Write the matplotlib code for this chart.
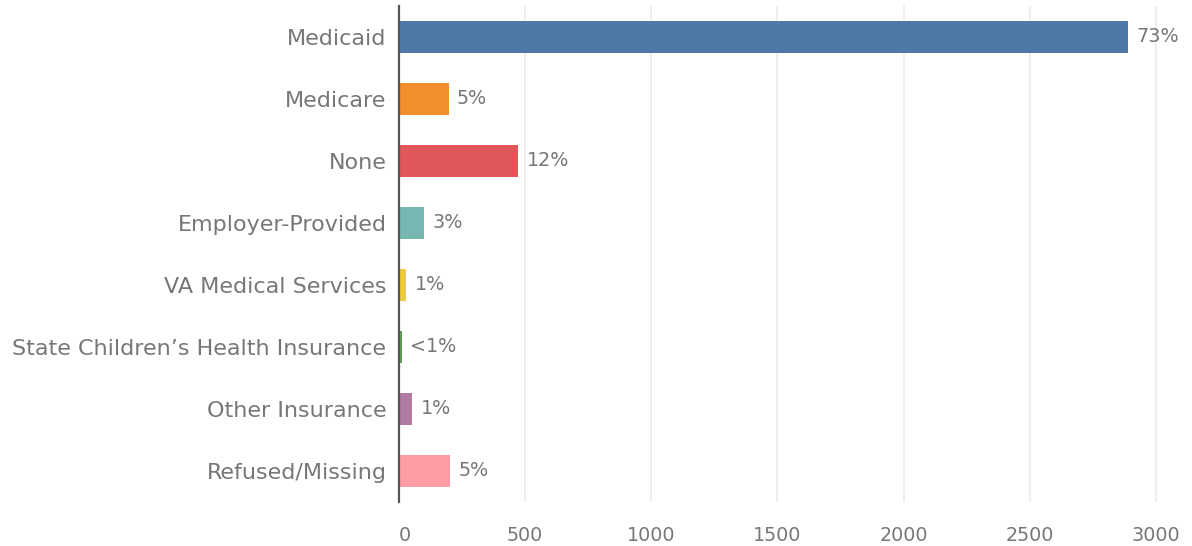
import matplotlib.pyplot as plt

# coverage type counts
categories = [
    "Medicaid",
    "Medicare",
    "None",
    "Employer-Provided",
    "VA Medical Services",
    "State Children\u2019s Health Insurance",
    "Other Insurance",
    "Refused/Missing",
]
counts = [2888, 197, 472, 100, 28, 11, 52, 203]
colors = ["#4e79a7", "#f28e2b", "#e15759", "#76b7b2",
          "#edc948", "#59a14f", "#b07aa1", "#ff9da7"]
x_ticks = [0, 500, 1000, 1500, 2000, 2500, 3000]

plt.rcParams["font.family"] = ["DejaVu Sans"]
text_color = "#777777"

W, H = 1192, 546
fig = plt.figure(figsize=(W / 100, H / 100), dpi=100)
ax = fig.add_axes([399 / W, 1 - 502 / H, (1185 - 399) / W, (502 - 6) / H])

y = list(range(len(categories)))
ax.barh(y, counts, height=0.516, color=colors, zorder=3)

# percent-of-total labels at the bar ends
total = sum(counts)
for yi, v in zip(y, counts):
    pct = round(v / total * 100)
    label = "<1%" if pct < 1 else f"{pct}%"
    ax.annotate(label, (v, yi), xytext=(6, 0), textcoords="offset points",
                va="center", ha="left", fontsize=13.8, color=text_color)

ax.set_ylim(len(categories) - 0.5, -0.5)
ax.set_xlim(0, 3115)
ax.set_yticks(y)
ax.set_yticklabels(categories, fontsize=16, color=text_color)
ax.set_xticks(x_ticks)
ax.set_xticklabels([str(t) for t in x_ticks], fontsize=13.8, color=text_color)
ax.get_xticklabels()[0].set_horizontalalignment("left")
ax.tick_params(axis="both", length=0)
ax.tick_params(axis="y", pad=9)
ax.tick_params(axis="x", pad=17)

ax.grid(axis="x", color="#ebebeb", linewidth=1.2, zorder=0)
for side in ["top", "right", "bottom"]:
    ax.spines[side].set_visible(False)
ax.spines["left"].set_color("#555555")
ax.spines["left"].set_linewidth(1.6)
ax.spines["left"].set_zorder(4)

fig.savefig("out.png", dpi=100)
